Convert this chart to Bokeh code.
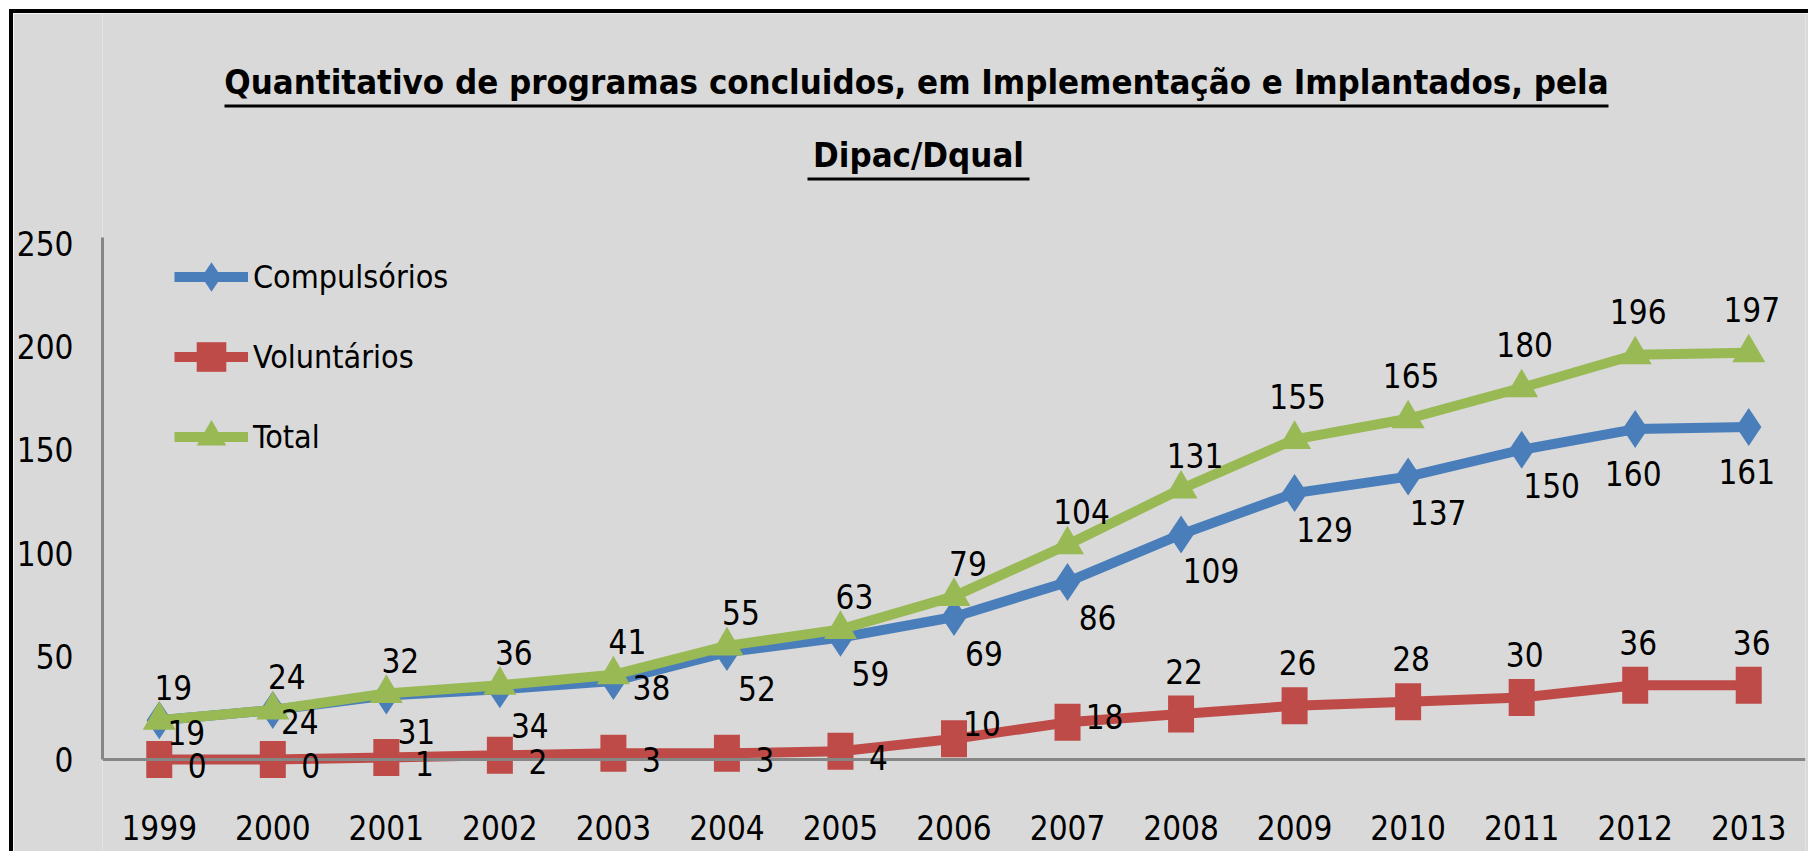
from bokeh.plotting import figure
from bokeh.models import (ColumnDataSource, FactorRange, Range1d, FixedTicker,
                          Legend, LegendItem, Label, LabelSet, BoxAnnotation)
from bokeh.core.properties import value
from bokeh.embed import file_html
from bokeh.resources import INLINE

# ---------------- data ----------------
years = ["1999", "2000", "2001", "2002", "2003", "2004", "2005", "2006",
         "2007", "2008", "2009", "2010", "2011", "2012", "2013"]
compulsorios = [19, 24, 31, 34, 38, 52, 59, 69, 86, 109, 129, 137, 150, 160, 161]
voluntarios = [0, 0, 1, 2, 3, 3, 4, 10, 18, 22, 26, 28, 30, 36, 36]
total = [19, 24, 32, 36, 41, 55, 63, 79, 104, 131, 155, 165, 180, 196, 197]
y_ticks = [0, 50, 100, 150, 200, 250]
series_names = ["Compulsórios", "Voluntários", "Total"]
title_lines = ["Quantitativo de programas concluidos, em Implementação e Implantados, pela",
               "Dipac/Dqual"]

# label placement (like Excel's per-point label position)
comp_pos = (["right_low"] * 2 + ["below_right"] * 2 + ["right"]
            + ["below_right"] * 8 + ["below"] * 2)
vol_pos = ["right"] * 7 + ["right_up", "right_mid"] + ["above"] * 6
tot_pos = ["above_right"] * 10 + ["above"] * 5
OFFSETS = {"above": (3, -43), "above_right": (14, -33), "right": (38, 6),
           "right_up": (28, -15), "right_mid": (37, -6), "right_low": (27, 12),
           "below_right": (30, 36), "below": (-2, 44)}

# ---------------- style ----------------
FONT = "DejaVu Sans Condensed"
BG = "#D9D9D9"
BLUE = "#4A7EBB"
RED = "#BE4B48"
GREEN = "#98B954"
AXIS = "#868686"

W, H = 1799, 842
FRAME_L, FRAME_R = 87, 7
ZERO_PX = 746            # canvas y of value 0
px_per_unit = 2.065
y_end = ZERO_PX / px_per_unit
y_start = -(H - ZERO_PX) / px_per_unit

p = figure(width=W, height=H, x_range=FactorRange(*years, range_padding=0),
           y_range=Range1d(y_start, y_end), output_backend="svg", toolbar_location=None,
           min_border_left=FRAME_L, min_border_right=FRAME_R, min_border_top=0,
           min_border_bottom=0, background_fill_color=BG, border_fill_color=BG,
           outline_line_color=None)
p.styles = {"margin-left": "9px", "margin-top": "9px",
            "border-left": "4px solid black", "border-top": "4px solid black"}
p.xgrid.visible = False
p.ygrid.visible = False

for ax in (p.xaxis[0], p.yaxis[0]):
    ax.axis_line_color = AXIS
    ax.axis_line_width = 3
    ax.major_tick_line_color = None
    ax.minor_tick_line_color = None
    ax.major_tick_in = 0
    ax.major_tick_out = 0
    ax.major_label_text_font = FONT
    ax.major_label_text_font_size = "33px"
    ax.major_label_text_color = "black"
p.yaxis.bounds = (0, 253)
p.yaxis.ticker = FixedTicker(ticks=y_ticks)
p.yaxis.major_label_standoff = 29
p.xaxis.fixed_location = 0
p.xaxis.major_label_standoff = 55

src = ColumnDataSource(dict(year=years, comp=compulsorios, vol=voluntarios, tot=total))

l_c = p.line("year", "comp", source=src, line_color=BLUE, line_width=10)
m_c = p.scatter("year", "comp", source=src, marker="diamond", size=38,
                fill_color=BLUE, line_color=None)
l_v = p.line("year", "vol", source=src, line_color=RED, line_width=10)
p.rect("year", "vol", source=src, width=26, height=37, width_units="screen",
       height_units="screen", fill_color=RED, line_color=None)
m_v = p.scatter("year", "vol", source=src, marker="square", size=0.1,
                fill_color=RED, line_color=None)
l_t = p.line("year", "tot", source=src, line_color=GREEN, line_width=10)
m_t = p.scatter("year", "tot", source=src, marker="triangle", size=33,
                fill_color=GREEN, line_color=None)

def labels(vals, pos):
    dx = [OFFSETS[k][0] for k in pos]
    dy = [-OFFSETS[k][1] for k in pos]
    s = ColumnDataSource(dict(x=years, y=vals, t=[str(v) for v in vals], dx=dx, dy=dy))
    p.add_layout(LabelSet(x="x", y="y", text="t", source=s, x_offset="dx", y_offset="dy",
                          text_font=value(FONT), text_font_size="33px", text_color="black",
                          text_align="center", text_baseline="middle"))

labels(compulsorios, comp_pos)
labels(voluntarios, vol_pos)
labels(total, tot_pos)

FB = 855   # page y of frame bottom
legend = Legend(items=[LegendItem(label=series_names[0], renderers=[l_c, m_c]),
                       LegendItem(label=series_names[1], renderers=[l_v, m_v]),
                       LegendItem(label=series_names[2], renderers=[l_t, m_t])],
                location=(72, FB - 474), orientation="vertical",
                glyph_width=74, glyph_height=75, spacing=5, padding=0, margin=0,
                label_standoff=5, label_text_font=FONT, label_text_font_size="32px",
                label_text_color="black", border_line_color=None,
                background_fill_alpha=0)
p.add_layout(legend, "center")

# title (frame-relative screen units, y measured up from frame bottom)
for txt, cx, cy in [(title_lines[0], 814, FB - 81), (title_lines[1], 816, FB - 154)]:
    p.add_layout(Label(x=cx, y=cy, x_units="screen", y_units="screen", text=txt,
                       text_font=FONT, text_font_style="bold", text_font_size="34.5px",
                       text_align="center", text_baseline="middle", text_color="black"))
for (lft, rgt, top) in [(122, 1506, FB - 104), (705, 927, FB - 177)]:
    p.add_layout(BoxAnnotation(left=lft, right=rgt, top=top, bottom=top - 3,
                               left_units="screen", right_units="screen",
                               top_units="screen", bottom_units="screen",
                               fill_color="black", fill_alpha=1, line_color=None))

open("out.html", "w").write(file_html(p, INLINE))
